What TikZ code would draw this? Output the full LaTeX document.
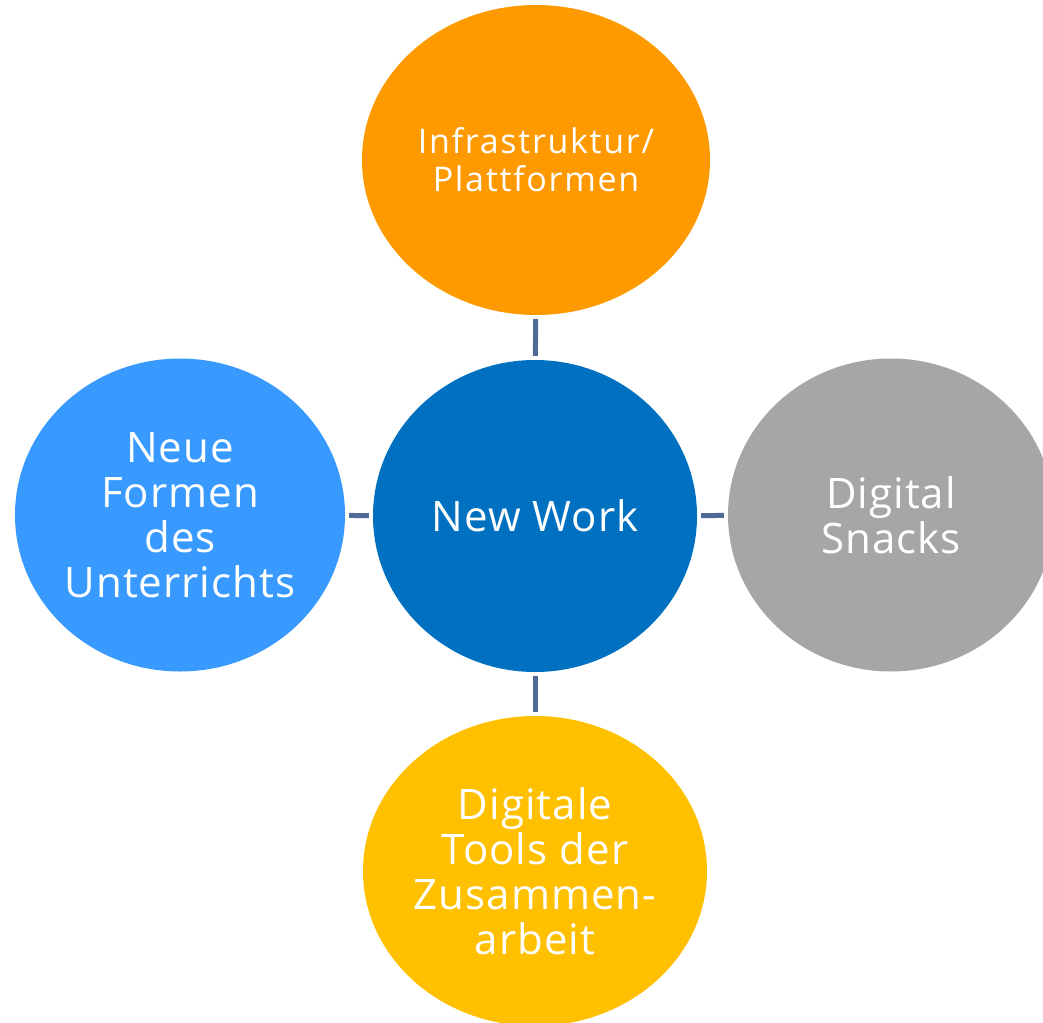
\documentclass[tikz,border=0pt]{standalone}
\usepackage{fontspec}
\setmainfont[LetterSpace=2.5]{Open Sans}
\usetikzlibrary{shapes.geometric}

\definecolor{nworange}{RGB}{255,153,0}
\definecolor{nwblue}{RGB}{0,112,192}
\definecolor{nwlight}{RGB}{56,154,255}
\definecolor{nwgrey}{RGB}{166,166,166}
\definecolor{nwyellow}{RGB}{255,192,0}
\definecolor{nwlink}{RGB}{79,106,150}

\tikzset{bubble/.style={ellipse, draw=none, fill=#1, text=white, inner sep=0pt,
  align=center, font=\fontsize{42}{45}\selectfont}}
\tikzset{link/.style={draw=nwlink, line width=5pt, shorten <=4pt, shorten >=4pt}}

\begin{document}
\begin{tikzpicture}[x=1pt,y=-1pt]

\useasboundingbox (0,0) rectangle (1043,1022);

% centre
\node[bubble=nwblue, minimum width=324pt, minimum height=312pt] (nw) at (535,516) {New Work};

% the four around it
\node[bubble=nworange, minimum width=348pt, minimum height=310pt,
  font=\fontsize{34}{38}\selectfont\addfontfeatures{LetterSpace=5}] (infra) at (536,160)
  {Infrastruktur/\\Plattformen};
\node[bubble=nwlight, minimum width=330pt, minimum height=313pt] (unterricht) at (180,515)
  {Neue\\Formen\\des\\Unterrichts};
\node[bubble=nwgrey, minimum width=326pt, minimum height=313pt] (snacks) at (891,515)
  {Digital\\Snacks};
\node[bubble=nwyellow, minimum width=344pt, minimum height=310pt] (tools) at (535,871)
  {Digitale\\Tools der\\Zusammen-\\arbeit};

% connectors
\foreach \b in {infra,unterricht,snacks,tools}{
  \draw[link] (nw) -- (\b);
}

\end{tikzpicture}
\end{document}
